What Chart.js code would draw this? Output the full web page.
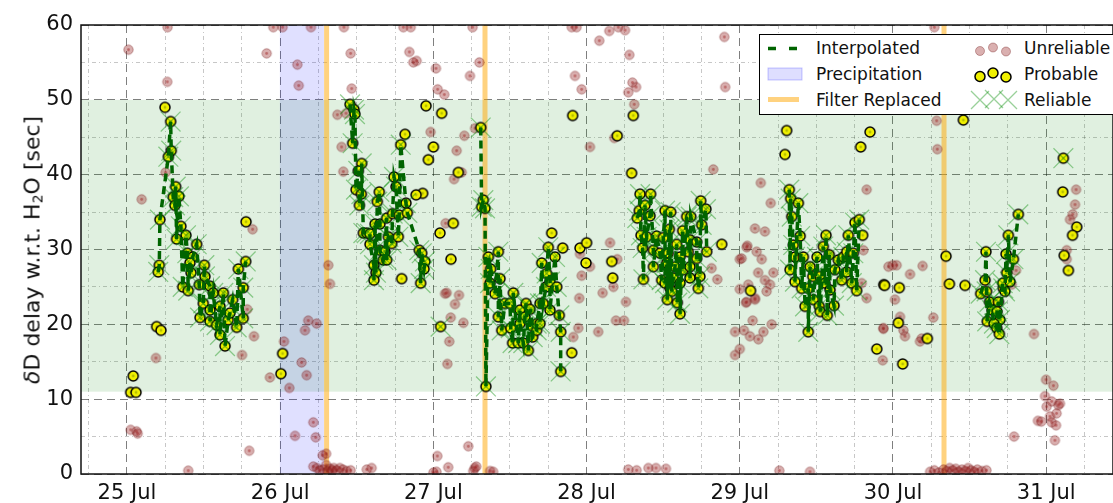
<!DOCTYPE html>
<html>
<head>
<meta charset="utf-8">
<script src="https://cdn.jsdelivr.net/npm/chart.js@4/dist/chart.umd.min.js"></script>
<style>
  body { margin: 0; background: #fff; font-family: "DejaVu Sans", sans-serif; overflow: hidden; }
  #wrap { position: relative; width: 1113px; height: 503px; overflow: hidden; }
  #ytitle { position: absolute; left: 32px; top: 250px; transform: translate(-50%, -50%) rotate(-90deg);
            white-space: nowrap; font-size: 22px; color: #111; }
  #ytitle sub { font-size: 14px; vertical-align: -3px; line-height: 0; }
  #legend { position: absolute; left: 759px; top: 34px; width: 380px; height: 79px;
            border: 1.5px solid #000; background: #fff; font-size: 17px; color: #111; }
  #legend span { position: absolute; white-space: nowrap; line-height: 20px; }
  #legend svg { position: absolute; left: 0; top: 0; }
</style>
</head>
<body>
<div id="wrap">
  <canvas id="chart" width="1113" height="503"></canvas>
  <div id="ytitle"><i>δ</i>D delay w.r.t. H<sub>2</sub>O [sec]</div>
  <div id="legend">
    <svg width="380" height="79">
      <line x1="8" y1="13.5" x2="37" y2="13.5" stroke="#006400" stroke-width="3.5" stroke-dasharray="8,13"/>
      <rect x="8" y="33" width="34" height="12" fill="rgba(0,0,255,0.13)" stroke="rgba(0,0,255,0.22)"/>
      <line x1="8" y1="64.5" x2="39" y2="64.5" stroke="rgba(255,165,0,0.5)" stroke-width="5"/>
      <g fill="rgba(150,30,30,0.35)" stroke="rgba(110,20,20,0.35)">
        <circle cx="220" cy="16" r="4.5"/><circle cx="233" cy="12.5" r="4.5"/><circle cx="246" cy="16.5" r="4.5"/>
      </g>
      <g fill="rgb(240,240,0)" stroke="#000" stroke-width="1.5">
        <circle cx="220" cy="41.5" r="5"/><circle cx="233" cy="38" r="5"/><circle cx="246" cy="42" r="5"/>
      </g>
      <g stroke="rgba(0,140,0,0.4)" stroke-width="1.3">
        <path d="M211 56 L229 74 M211 74 L229 56"/>
        <path d="M225 55 L243 73 M225 73 L243 55"/>
        <path d="M239 56 L257 74 M239 74 L257 56"/>
      </g>
    </svg>
    <span style="left:56px; top:3px;">Interpolated</span>
    <span style="left:56px; top:29px;">Precipitation</span>
    <span style="left:56px; top:55px;">Filter Replaced</span>
    <span style="left:264px; top:3px;">Unreliable</span>
    <span style="left:264px; top:29px;">Probable</span>
    <span style="left:264px; top:55px;">Reliable</span>
  </div>
</div>
<script>
// x values are day of July (fractional), y values are delay in seconds
const xTicks = [];
for (let v = 24.75; v <= 31.3; v += 0.25) xTicks.push(v);
const yTicks = [0, 5, 10, 15, 20, 25, 30, 35, 40, 45, 50, 55, 60];

const greenBand = [11, 50];
const precipitation = [[25.998, 26.286]];
const filterReplaced = [26.303, 27.337, 30.333];

const unreliable = [
  [25.01,56.7],[25.265,59.7],[25.263,52.4],[25.096,36.7],[25.252,40.3],[25.785,22.0],[25.829,18.4],[25.189,15.5],
  [25.751,15.9],[25.82,32.7],[25.024,5.9],[25.063,5.7],[25.07,5.4],[25.40,0.45],[25.798,3.1],
  [25.955,59.7],[26.016,59.7],[26.201,59.7],[25.912,56.2],[26.112,54.7],[26.121,51.9],[26.416,59.7],[26.46,56.2],
  [26.467,51.5],[26.373,48.0],[26.43,48.2],[26.401,43.7],[26.412,40.4],[25.933,12.9],[26.025,17.7],[26.06,11.5],
  [26.14,14.9],[26.173,13.2],[26.162,19.2],[26.183,20.5],[26.238,20.1],[26.216,6.9],[26.097,5.1],[26.232,4.9],
  [26.277,2.5],[26.30,2.7],[26.314,27.9],[26.325,25.4],
  [26.216,1.0],[26.24,0.8],[26.259,0.5],[26.28,0.6],[26.30,1.2],[26.31,0.4],[26.325,0.7],[26.34,0.5],[26.35,0.8],
  [26.369,0.5],[26.39,0.8],[26.41,0.6],[26.434,0.4],[26.46,0.5],[26.565,0.6],[26.597,0.8],
  [26.804,59.7],[26.852,59.7],[26.843,56.4],[26.869,55.0],[26.891,55.2],[27.017,54.2],[27.028,51.4],[27.071,50.7],
  [27.256,59.7],[27.30,55.0],[27.239,53.2],[27.272,46.2],[26.982,45.7],[27.202,45.2],[27.152,43.2],[27.135,39.4],
  [27.185,40.3],[27.08,33.5],[27.076,24.1],[27.087,24.2],[27.167,23.9],[27.141,22.7],[27.113,20.9],[27.196,20.2],
  [27.104,17.7],[27.091,14.7],[27.026,2.4],[27.097,0.9],[27.228,3.7],[27.26,0.4],[27.27,0.8],[27.28,1.0],
  [27.37,0.4],[27.39,0.3],[27.0,0.2],[27.02,0.3],
  [27.903,59.7],[27.935,59.7],[27.924,53.2],[27.968,51.4],[28.083,57.9],[28.148,59.2],[28.207,59.7],[28.251,59.3],
  [28.279,56.0],[28.299,52.3],[28.323,51.7],[28.272,51.0],[28.311,49.4],[28.022,43.7],[28.181,44.9],[28.827,40.7],
  [28.899,58.4],[28.905,51.7],[27.957,29.4],[28.022,27.7],[27.968,26.5],[27.952,23.5],[27.946,19.5],[27.913,18.3],
  [28.105,24.2],[28.257,23.0],[28.192,20.5],[28.244,20.5],[28.076,19.0],[28.2,28.7],[28.153,30.9],[28.175,25.0],
  [28.816,27.5],[28.853,26.0],[29.045,30.3],
  [28.272,0.6],[28.327,0.5],[28.403,0.8],[28.453,0.8],[28.518,0.7],
  [29.0,28.7],[29.0,24.7],[29.055,25.3],[29.04,22.9],[29.099,23.5],[29.084,20.5],[28.969,19.0],[29.027,19.2],
  [29.066,18.4],[29.121,18.0],[29.0,16.7],[28.969,15.9],[29.137,38.9],[29.202,36.2],[29.099,32.8],[29.164,32.4],
  [29.049,30.5],[29.11,29.7],[29.143,28.7],[29.012,28.8],[29.12,26.9],[29.219,26.9],[29.164,25.9],[29.197,25.3],
  [29.175,24.4],[29.045,23.0],[29.099,23.3],[29.208,20.0],[29.154,19.0],[29.828,38.0],[29.807,29.9],[29.796,25.5],
  [29.828,23.5],[29.937,19.5],[29.97,27.7],[29.258,0.45],[29.458,0.3],
  [29.998,27.9],[30.024,27.9],[30.111,26.7],[30.013,23.3],[30.046,21.0],[30.068,19.2],[30.078,18.4],[29.937,19.4],
  [29.933,15.2],[30.187,18.1],[30.176,17.7],[30.263,20.9],[30.193,27.8],[30.289,43.4],[30.285,47.2],[30.27,59.7],
  [30.803,27.2],[30.775,25.3],[30.92,18.7],[30.79,5.0],
  [30.999,12.6],[31.047,11.8],[30.992,10.4],[31.036,9.7],[31.079,9.2],[31.09,9.4],[31.003,9.0],[31.068,8.1],
  [31.025,7.7],[30.946,7.1],[30.968,7.0],[31.036,6.9],[31.064,6.5],[31.057,4.5],
  [31.195,38.0],[31.188,36.0],[31.173,34.7],[31.155,34.0],[31.134,29.9],[31.134,28.7],
  [30.242,0.3],[30.27,0.5],[30.30,0.2],[30.33,0.6],[30.35,0.4],[30.37,0.8],[30.39,0.5],[30.41,0.7],[30.43,0.3],
  [30.45,0.6],[30.47,0.4],[30.49,0.8],[30.51,0.5],[30.53,0.3],[30.55,0.6],[30.58,0.4],[30.61,0.5]
];

const probable = [
  [25.248,49.0],[25.777,33.7],[25.194,19.7],[25.222,19.2],[25.041,13.1],[25.024,10.9],[25.059,10.9],[26.016,16.1],
  [26.005,13.4],[26.952,49.2],[27.054,48.2],[27.0,43.7],[26.967,42.0],[26.815,45.4],[27.163,40.3],[27.13,33.5],
  [27.043,32.2],[26.93,37.5],[26.887,37.3],[26.793,26.1],[27.115,28.7],
  [27.909,47.9],[28.305,47.9],[28.2,45.2],[28.294,40.2],[27.772,32.2],[28.882,30.7],[27.844,30.2],[27.957,30.2],
  [28.0,30.9],[27.996,28.2],[27.903,16.2],[28.164,28.4],[28.17,26.2],
  [29.306,45.9],[29.295,42.7],[29.85,45.7],[29.789,43.7],[29.802,31.9],[29.94,25.3],[29.894,16.7],[29.07,24.5],
  [29.945,25.2],[30.041,24.9],[30.035,20.2],[30.063,14.7],[30.224,18.1],[30.346,29.1],[30.368,25.4],[30.47,25.2],
  [30.459,47.3],[31.108,37.7],[31.199,33.0],[31.172,31.9],[31.117,29.2],[31.145,27.2]
];

const reliable25 = [
  [25.285,47.1],[25.289,43.2],[25.270,42.4],[25.318,38.4],[25.302,37.0],[25.339,37.1],[25.313,35.9],[25.215,34.0],
  [25.352,33.1],[25.385,31.9],[25.324,31.4],[25.455,30.7],[25.211,27.9],[25.204,27.0],[25.394,29.5],[25.429,29.0],
  [25.505,27.9],[25.411,28.2],[25.418,26.9],[25.509,26.4],[25.472,25.3],[25.364,25.0],[25.400,24.5],[25.542,25.1],
  [25.563,24.2],[25.629,24.2],[25.690,23.3],[25.498,22.8],[25.542,21.9],[25.607,22.4],[25.477,20.9],[25.542,20.4],
  [25.585,19.9],[25.661,20.6],[25.716,19.6],[25.759,20.8],[25.607,18.6],[25.640,17.1],[25.672,21.5],[25.727,27.4],
  [25.775,28.4],[25.759,24.9]
];
const reliable26 = [
  [26.456,49.4],[26.482,48.7],[26.488,48.1],[26.473,44.2],[26.532,41.5],[26.510,40.5],[26.495,38.0],[26.530,37.4],
  [26.517,35.9],[26.647,37.7],[26.634,36.4],[26.543,32.2],[26.565,32.2],[26.586,32.1],[26.619,33.4],[26.651,33.4],
  [26.586,30.7],[26.695,34.2],[26.743,39.7],[26.756,38.4],[26.734,34.8],[26.777,34.6],[26.787,44.0],[26.821,36.2],
  [26.830,34.9],[26.706,31.7],[26.728,30.8],[26.651,29.9],[26.684,29.7],[26.771,31.7],[26.612,27.9],[26.625,26.9],
  [26.612,25.9],[26.673,28.6],[26.695,28.6],[26.908,29.9],[26.924,29.5],[26.945,28.4],[26.939,27.4],[26.917,25.5]
];
const reliable27 = [
  [27.309,46.3],[27.315,35.7],[27.326,36.6],[27.337,35.5],[27.343,11.7],[27.359,29.0],[27.374,27.4],[27.370,25.5],
  [27.424,29.7],[27.402,24.1],[27.435,26.1],[27.522,24.2],[27.424,21.0],[27.446,19.2],[27.467,22.8],[27.500,22.8],
  [27.505,19.5],[27.517,17.5],[27.554,17.5],[27.587,17.5],[27.620,16.5],[27.565,21.9],[27.598,21.0],[27.565,20.1],
  [27.605,22.8],[27.631,22.0],[27.648,19.7],[27.648,18.3],[27.674,19.2],[27.674,20.1],[27.696,22.8],[27.696,20.1],
  [27.707,28.2],[27.739,26.8],[27.750,30.3],[27.794,29.0],[27.735,25.0],[27.761,25.7],[27.805,25.0],[27.761,21.9],
  [27.717,22.8],[27.822,21.2],[27.831,19.0],[27.831,13.7]
];
const reliable28 = [
  [28.349,37.4],[28.418,37.4],[28.344,35.2],[28.381,35.9],[28.414,34.5],[28.331,34.2],[28.512,35.2],[28.549,35.0],
  [28.540,32.7],[28.653,34.4],[28.680,34.4],[28.745,36.5],[28.779,35.4],[28.751,33.3],[28.627,32.5],[28.355,31.9],
  [28.392,31.7],[28.457,31.8],[28.501,31.6],[28.588,30.7],[28.366,30.2],[28.436,29.9],[28.479,29.5],[28.533,29.5],
  [28.675,31.3],[28.719,31.0],[28.664,29.7],[28.784,29.7],[28.719,28.8],[28.610,29.0],[28.523,28.2],[28.577,27.7],
  [28.436,27.7],[28.631,27.3],[28.675,27.7],[28.371,26.0],[28.490,25.9],[28.512,25.5],[28.566,26.2],[28.610,25.5],
  [28.675,26.2],[28.740,26.4],[28.545,24.8],[28.556,24.4],[28.729,24.8],[28.527,23.3],[28.592,22.9],[28.610,21.4]
];
const reliable29 = [
  [29.323,38.0],[29.332,36.8],[29.382,36.2],[29.339,34.4],[29.394,31.8],[29.349,30.6],[29.360,29.0],[29.328,27.3],
  [29.360,25.7],[29.415,29.0],[29.459,27.7],[29.404,24.8],[29.447,24.8],[29.426,22.4],[29.476,26.4],[29.504,29.0],
  [29.545,30.4],[29.584,29.3],[29.563,31.9],[29.523,26.4],[29.556,25.5],[29.480,23.3],[29.519,22.4],[29.525,21.7],
  [29.571,21.2],[29.615,22.5],[29.589,24.6],[29.621,27.3],[29.643,28.6],[29.676,29.0],[29.698,29.7],[29.665,25.9],
  [29.708,31.9],[29.698,27.0],[29.741,29.5],[29.752,33.6],[29.780,34.0],[29.731,25.5],[29.763,24.5],[29.447,19.0]
];
const reliable30 = [
  [30.607,29.7],[30.601,25.9],[30.572,24.1],[30.611,24.4],[30.630,23.0],[30.688,23.0],[30.646,21.9],[30.679,21.7],
  [30.615,20.4],[30.698,20.6],[30.659,20.1],[30.677,19.5],[30.694,18.7],[30.720,24.8],[30.731,24.4],[30.716,25.5],
  [30.742,26.9],[30.764,25.7],[30.738,29.4],[30.786,28.7],[30.753,31.9],[30.818,34.7]
];
const reliableSingles = [[27.047,19.7],[31.112,42.2]];

const clusters = [reliable25, reliable26, reliable27, reliable28, reliable29, reliable30];
const allReliable = clusters.flat().concat(reliableSingles);
const toXY = p => ({ x: p[0], y: p[1] });

// interpolated line runs through each cluster in time order, broken between clusters
const interpolated = [];
clusters.forEach(c => {
  const sorted = c.slice().sort((a, b) => a[0] - b[0]);
  sorted.forEach(p => interpolated.push(toXY(p)));
  interpolated.push({ x: sorted[sorted.length - 1][0] + 0.001, y: null });
});

function dotImage(r, fill, stroke, lw, center) {
  const c = document.createElement('canvas');
  const s = Math.ceil(2 * r + lw + 2);
  c.width = c.height = s;
  const g = c.getContext('2d');
  g.beginPath();
  g.arc(s / 2, s / 2, r, 0, 2 * Math.PI);
  g.fillStyle = fill;
  g.fill();
  g.lineWidth = lw;
  g.strokeStyle = stroke;
  g.stroke();
  if (center) {
    g.beginPath();
    g.arc(s / 2, s / 2, 1.4, 0, 2 * Math.PI);
    g.fillStyle = center;
    g.fill();
  }
  return c;
}
const pinkDot = dotImage(4.7, 'rgba(150,30,30,0.36)', 'rgba(110,20,20,0.38)', 1, 'rgba(150,20,20,0.45)');
const yellowDot = dotImage(5, 'rgb(240,240,0)', '#000', 1.5, 'rgba(110,130,0,0.45)');

const bandsPlugin = {
  id: 'bands',
  beforeDatasetsDraw(chart) {
    const { ctx, chartArea: a, scales: { x, y } } = chart;
    ctx.save();
    ctx.beginPath();
    ctx.rect(a.left, a.top, a.right - a.left, a.bottom - a.top);
    ctx.clip();
    ctx.fillStyle = 'rgba(0,128,0,0.12)';
    const yTop = y.getPixelForValue(greenBand[1]), yBot = y.getPixelForValue(greenBand[0]);
    ctx.fillRect(a.left, yTop, a.right - a.left, yBot - yTop);
    ctx.fillStyle = 'rgba(0,0,255,0.12)';
    precipitation.forEach(([s, e]) => {
      const x0 = x.getPixelForValue(s), x1 = x.getPixelForValue(e);
      ctx.fillRect(x0, a.top, x1 - x0, a.bottom - a.top);
    });
    ctx.strokeStyle = 'rgba(255,165,0,0.5)';
    ctx.lineWidth = 5;
    filterReplaced.forEach(v => {
      const px = x.getPixelForValue(v);
      ctx.beginPath();
      ctx.moveTo(px, a.top);
      ctx.lineTo(px, a.bottom);
      ctx.stroke();
    });
    ctx.restore();
  },
  afterDraw(chart) {
    const { ctx, chartArea: a } = chart;
    ctx.save();
    ctx.strokeStyle = '#111';
    ctx.lineWidth = 1.5;
    ctx.strokeRect(a.left, a.top, a.right - a.left, a.bottom - a.top);
    ctx.restore();
  }
};

const isMajorX = v => Math.abs(v - Math.round(v)) < 1e-6;
const isMajorY = v => v % 10 === 0;

new Chart(document.getElementById('chart'), {
  type: 'scatter',
  data: {
    datasets: [
      {
        label: 'Interpolated', data: interpolated, showLine: true, pointRadius: 0,
        borderColor: '#006400', borderWidth: 3.5, borderDash: [8, 5], order: 0
      },
      {
        label: 'Reliable', data: allReliable.map(toXY), pointStyle: 'crossRot', pointRadius: 14,
        borderColor: 'rgba(0,140,0,0.4)', borderWidth: 1.3, order: 1
      },
      {
        label: 'Probable', data: probable.concat(allReliable).map(toXY), pointStyle: yellowDot, order: 2
      },
      {
        label: 'Unreliable', data: unreliable.map(toXY), pointStyle: pinkDot, order: 3
      }
    ]
  },
  options: {
    responsive: false,
    animation: false,
    events: [],
    layout: { autoPadding: false, padding: { top: 25, right: 0, left: 0, bottom: 0 } },
    plugins: { legend: { display: false }, tooltip: { enabled: false } },
    scales: {
      x: {
        type: 'linear', min: 24.7, max: 31.436,
        afterBuildTicks: s => { s.ticks = xTicks.map(v => ({ value: v })); },
        afterFit: s => { s.height = 29; s.paddingLeft = 0; s.paddingRight = 0; },
        ticks: {
          autoSkip: false, maxRotation: 0, padding: 7, color: '#111',
          font: { family: 'DejaVu Sans', size: 21 },
          callback: v => isMajorX(v) ? Math.round(v) + ' Jul' : ''
        },
        grid: {
          drawTicks: false,
          color: c => c.tick && isMajorX(c.tick.value) ? 'rgba(0,0,0,0.5)' : 'rgba(0,0,0,0.22)',
          lineWidth: 1
        },
        border: {
          display: false,
          dash: c => c.tick ? (isMajorX(c.tick.value) ? [8, 5] : [4, 3, 1, 3]) : []
        }
      },
      y: {
        min: 0, max: 60,
        afterBuildTicks: s => { s.ticks = yTicks.map(v => ({ value: v })); },
        afterFit: s => { s.width = 81; s.paddingTop = 0; s.paddingBottom = 0; },
        ticks: {
          autoSkip: false, padding: 8, color: '#111',
          font: { family: 'DejaVu Sans', size: 21 },
          callback: v => isMajorY(v) ? String(v) : ''
        },
        grid: {
          drawTicks: false,
          color: c => c.tick && isMajorY(c.tick.value) ? 'rgba(0,0,0,0.5)' : 'rgba(0,0,0,0.22)',
          lineWidth: 1
        },
        border: {
          display: false,
          dash: c => c.tick ? (isMajorY(c.tick.value) ? [8, 5] : [4, 3, 1, 3]) : []
        }
      }
    }
  },
  plugins: [bandsPlugin]
});
</script>
</body>
</html>
